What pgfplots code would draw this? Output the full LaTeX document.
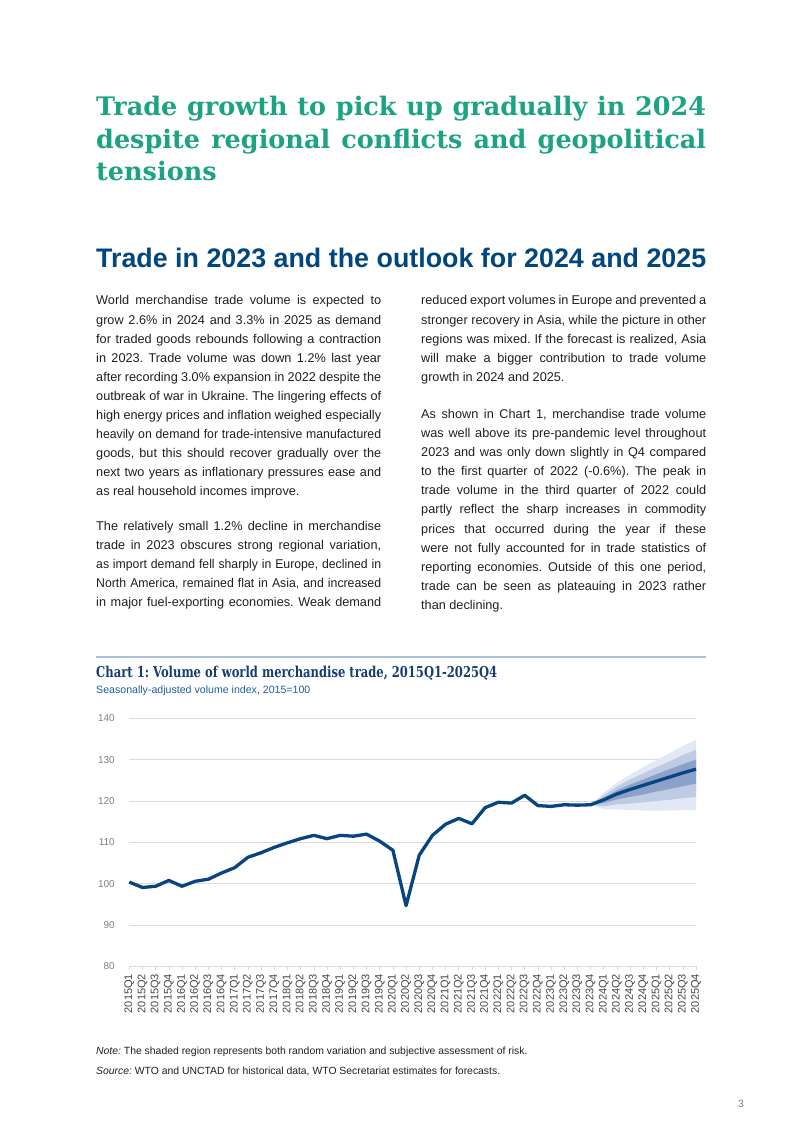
\documentclass[border=0pt]{standalone}
\usepackage{fontspec}
\setmainfont{Liberation Sans}[WordSpace={1,1,1.3}]
\newfontfamily\slab{DejaVu Serif}
\usepackage{graphicx}
\usepackage{pgfplots}
\pgfplotsset{compat=1.18}
\usepackage{pgfplotstable}
\definecolor{titlegreen}{RGB}{28,163,131}
\definecolor{headblue}{RGB}{0,70,127}
\definecolor{charttitle}{RGB}{22,62,112}
\definecolor{subblue}{RGB}{31,95,160}
\definecolor{rulecol}{RGB}{170,192,214}
\definecolor{bodytext}{RGB}{35,31,32}
\definecolor{linecol}{RGB}{8,69,128}
\definecolor{fanlight}{RGB}{226,233,244}
\definecolor{fanmed}{RGB}{190,204,227}
\definecolor{fandark}{RGB}{138,161,201}
\definecolor{gridcol}{RGB}{218,218,218}
\definecolor{ytickcol}{RGB}{128,128,128}
\definecolor{xtickcol}{RGB}{70,70,70}

\newcommand{\jl}[1]{\hbox to 285pt{#1}}
\newcommand{\tjl}[1]{\hbox to 285pt{\scalebox{0.965}[1]{\hbox to 295.3pt{#1}}}}
\newcommand{\lastl}[1]{\hbox to 285pt{#1\hfil}}

\pgfplotstableread{
q v
0 100.4
1 99.1
2 99.4
3 100.8
4 99.4
5 100.6
6 101.1
7 102.6
8 103.9
9 106.4
10 107.5
11 108.8
12 109.9
13 110.9
14 111.7
15 110.9
16 111.7
17 111.5
18 112.0
19 110.3
20 108.1
21 94.7
22 106.9
23 111.7
24 114.4
25 115.8
26 114.5
27 118.4
28 119.7
29 119.5
30 121.4
31 118.9
32 118.7
33 119.1
34 119.0
35 119.1
36 120.3
37 121.7
38 122.8
39 123.8
40 124.8
41 125.8
42 126.8
43 127.7
}\volume

\begin{document}
\frenchspacing
\begin{tikzpicture}[x=1pt,y=1pt]
\fill[white] (0,0) rectangle (802,1133);

% green title
\node[anchor=base west, inner sep=0, text=titlegreen] at (96,1017) {\begin{minipage}[t]{610pt}\slab\bfseries\fontsize{25.5}{32.5}\selectfont
\hbox to 610pt{Trade growth to pick up gradually in 2024}
\hbox to 610pt{despite regional conflicts and geopolitical}
\hbox{tensions}\end{minipage}};

% section heading
\node[anchor=base west, inner sep=0, text=headblue] at (96,865) {\fontsize{26.8}{30}\selectfont\bfseries\hbox to 610pt{Trade in 2023 and the outlook for 2024 and 2025}};

% body text
\node[anchor=base west, inner sep=0, text=bodytext] at (96,828) {\begin{minipage}[t]{285pt}\fontsize{12.7}{19.1}\selectfont
\jl{World merchandise trade volume is expected to}
\jl{grow 2.6\% in 2024 and 3.3\% in 2025 as demand}
\jl{for traded goods rebounds following a contraction}
\jl{in 2023. Trade volume was down 1.2\% last year}
\jl{after recording 3.0\% expansion in 2022 despite the}
\jl{outbreak of war in Ukraine. The lingering effects of}
\jl{high energy prices and inflation weighed especially}
\tjl{heavily on demand for trade-intensive manufactured}
\jl{goods, but this should recover gradually over the}
\jl{next two years as inflationary pressures ease and}
\lastl{as real household incomes improve.}
\end{minipage}};

\node[anchor=base west, inner sep=0, text=bodytext] at (96,602.5) {\begin{minipage}[t]{285pt}\fontsize{12.7}{19.1}\selectfont
\jl{The relatively small 1.2\% decline in merchandise}
\jl{trade in 2023 obscures strong regional variation,}
\tjl{as import demand fell sharply in Europe, declined in}
\tjl{North America, remained flat in Asia, and increased}
\jl{in major fuel-exporting economies. Weak demand}
\end{minipage}};

\node[anchor=base west, inner sep=0, text=bodytext] at (421,828) {\begin{minipage}[t]{285pt}\fontsize{12.7}{19.1}\selectfont
\jl{reduced export volumes in Europe and prevented a}
\jl{stronger recovery in Asia, while the picture in other}
\jl{regions was mixed. If the forecast is realized, Asia}
\jl{will make a bigger contribution to trade volume}
\lastl{growth in 2024 and 2025.}
\end{minipage}};

\node[anchor=base west, inner sep=0, text=bodytext] at (421,714.5) {\begin{minipage}[t]{285pt}\fontsize{12.7}{19.1}\selectfont
\jl{As shown in Chart 1, merchandise trade volume}
\jl{was well above its pre-pandemic level throughout}
\jl{2023 and was only down slightly in Q4 compared}
\jl{to the first quarter of 2022 (-0.6\%). The peak in}
\jl{trade volume in the third quarter of 2022 could}
\jl{partly reflect the sharp increases in commodity}
\jl{prices that occurred during the year if these}
\jl{were not fully accounted for in trade statistics of}
\jl{reporting economies. Outside of this one period,}
\jl{trade can be seen as plateauing in 2023 rather}
\lastl{than declining.}
\end{minipage}};

% chart header
\draw[rulecol, line width=2pt] (96,476) -- (706,476);
\node[anchor=base west, inner sep=0, text=charttitle] at (96,455) {\resizebox{401pt}{\height}{\slab\bfseries\fontsize{15}{16}\selectfont Chart 1: Volume of world merchandise trade, 2015Q1-2025Q4}};
\node[anchor=base west, inner sep=0, text=subblue] at (96,439.5) {\fontsize{10.6}{12}\selectfont Seasonally-adjusted volume index, 2015=100};

\begin{axis}[
  at={(129.3pt,166.5pt)}, anchor=south west,
  scale only axis, width=566.7pt, height=248.2pt,
  xmin=0, xmax=43, ymin=80, ymax=140,
  ytick={80,90,...,140},
  xtick={0,...,43},
  xticklabels={2015Q1,2015Q2,2015Q3,2015Q4,2016Q1,2016Q2,2016Q3,2016Q4,2017Q1,2017Q2,2017Q3,2017Q4,2018Q1,2018Q2,2018Q3,2018Q4,2019Q1,2019Q2,2019Q3,2019Q4,2020Q1,2020Q2,2020Q3,2020Q4,2021Q1,2021Q2,2021Q3,2021Q4,2022Q1,2022Q2,2022Q3,2022Q4,2023Q1,2023Q2,2023Q3,2023Q4,2024Q1,2024Q2,2024Q3,2024Q4,2025Q1,2025Q2,2025Q3,2025Q4},
  /pgf/number format/assume math mode=true,
  axis lines*=left,
  y axis line style={draw=none},
  x axis line style={draw=gridcol, line width=0.8pt},
  ymajorgrids, grid style={gridcol, line width=0.8pt},
  ytick style={draw=none},
  xtick style={draw=gridcol, line width=0.6pt},
  tick align=outside, major tick length=4pt,
  xticklabel style={rotate=90, anchor=east, text=xtickcol, font=\fontsize{11}{11}\selectfont},
  yticklabel style={text=ytickcol, font=\fontsize{10}{10}\selectfont, xshift=-7pt},
  clip=false,
]
\addplot[fill=fanlight, draw=none] coordinates {(35,119.1) (36,122.0) (37,124.4) (38,126.4) (39,128.2) (40,129.9) (41,131.6) (42,133.3) (43,134.8) (43,117.8) (42,117.8) (41,117.7) (40,117.7) (39,117.7) (38,117.8) (37,118.0) (36,118.0) (35,119.1)} -- cycle;
\addplot[fill=fanmed, draw=none] coordinates {(35,119.1) (36,121.4) (37,123.5) (38,125.2) (39,126.7) (40,128.2) (41,129.6) (42,131.1) (43,132.4) (43,121.0) (42,120.7) (41,120.3) (40,120.0) (39,119.7) (38,119.4) (37,119.2) (36,118.7) (35,119.1)} -- cycle;
\addplot[fill=fandark, draw=none] coordinates {(35,119.1) (36,120.8) (37,122.6) (38,124.0) (39,125.2) (40,126.5) (41,127.7) (42,128.9) (43,130.0) (43,124.2) (42,123.6) (41,122.9) (40,122.3) (39,121.6) (38,121.0) (37,120.4) (36,119.5) (35,119.1)} -- cycle;
\addplot[linecol, line width=3.3pt, line join=round] table[x=q, y=v] {\volume};
\end{axis}

% notes
\node[anchor=base west, inner sep=0, text=bodytext] at (96,78) {\fontsize{10.4}{12}\selectfont\textit{Note:} The shaded region represents both random variation and subjective assessment of risk.};
\node[anchor=base west, inner sep=0, text=bodytext] at (96,58) {\fontsize{10.4}{12}\selectfont\textit{Source:} WTO and UNCTAD for historical data, WTO Secretariat estimates for forecasts.};
\node[anchor=base west, inner sep=0, text=ytickcol] at (738,25) {\fontsize{10.4}{12}\selectfont 3};
\end{tikzpicture}
\end{document}
